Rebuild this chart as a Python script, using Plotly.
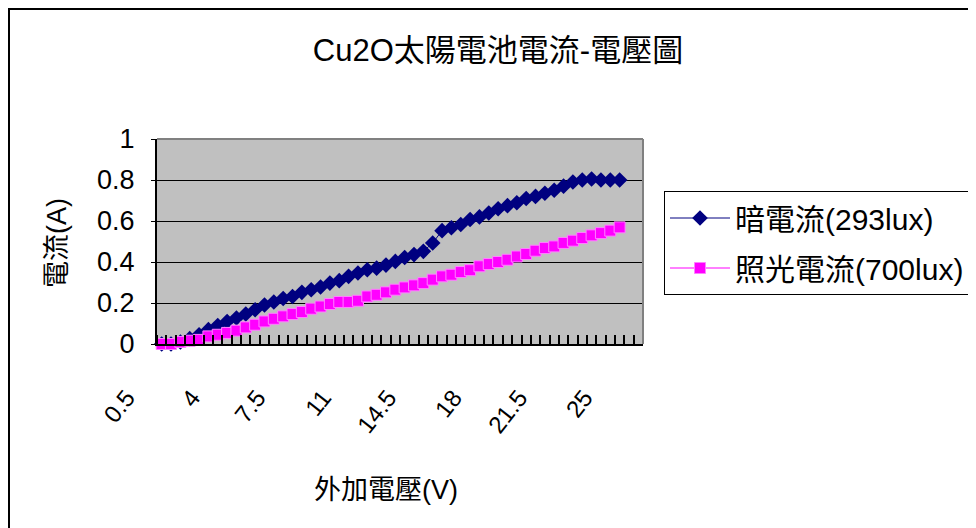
import plotly.graph_objects as go

# ---- data ----
voltage = [0.5, 1.0, 1.5, 2.0, 2.5, 3.0, 3.5, 4.0, 4.5, 5.0,
           5.5, 6.0, 6.5, 7.0, 7.5, 8.0, 8.5, 9.0, 9.5, 10.0,
           10.5, 11.0, 11.5, 12.0, 12.5, 13.0, 13.5, 14.0, 14.5, 15.0,
           15.5, 16.0, 16.5, 17.0, 17.5, 18.0, 18.5, 19.0, 19.5, 20.0,
           20.5, 21.0, 21.5, 22.0, 22.5, 23.0, 23.5, 24.0, 24.5, 25.0,
           25.5, 26.0]

dark_current = [0.0, 0.0, 0.01, 0.026, 0.045, 0.07, 0.09, 0.11, 0.127, 0.146,
                0.167, 0.19, 0.205, 0.222, 0.232, 0.252, 0.265, 0.278, 0.297, 0.309,
                0.33, 0.346, 0.362, 0.37, 0.385, 0.403, 0.422, 0.436, 0.452, 0.493,
                0.553, 0.567, 0.583, 0.607, 0.62, 0.639, 0.66, 0.675, 0.689, 0.71,
                0.72, 0.735, 0.75, 0.77, 0.79, 0.80, 0.805, 0.80, 0.80, 0.80]

light_current = [0.0, 0.0, 0.01, 0.016, 0.02, 0.037, 0.045, 0.054, 0.065, 0.081,
                 0.094, 0.11, 0.123, 0.135, 0.146, 0.156, 0.172, 0.183, 0.195, 0.205,
                 0.205, 0.211, 0.232, 0.24, 0.252, 0.265, 0.276, 0.286, 0.297, 0.314,
                 0.33, 0.338, 0.351, 0.36, 0.379, 0.39, 0.40, 0.411, 0.427, 0.439,
                 0.455, 0.468, 0.476, 0.493, 0.504, 0.517, 0.53, 0.541, 0.553, 0.569]

x_tick_values = [0.5, 4, 7.5, 11, 14.5, 18, 21.5, 25]
x_tick_labels = ["0.5", "4", "7.5", "11", "14.5", "18", "21.5", "25"]
y_tick_values = [0, 0.2, 0.4, 0.6, 0.8, 1]

series_names = ["暗電流(293lux)", "照光電流(700lux)"]
title_text = "Cu2O太陽電池電流-電壓圖"
x_title = "外加電壓(V)"
y_title = "電流(A)"

FONT = "Liberation Sans, Arial, Noto Sans CJK TC, sans-serif"

# page body has an 8px default margin; positions below are in reference pixels
OFF = 8
W, H = 976, 528
L, T = 157 - OFF, 139 - OFF
R = W - (643 - OFF)
B = H - (344 - OFF)
PW, PH = W - L - R, H - T - B


def px(x):
    return (x - OFF - L) / PW


def py(y):
    return (H - B - (y - OFF)) / PH


# category boundaries for the tick marks of the category-style axis
half_step = (voltage[1] - voltage[0]) / 2
boundaries = [v - half_step for v in voltage] + [voltage[-1] + half_step]

fig = go.Figure()
fig.add_trace(go.Scatter(
    x=voltage[:len(dark_current)], y=dark_current, name=series_names[0],
    mode="lines+markers", legendgroup="a", cliponaxis=False,
    line=dict(color="#000080", width=1),
    marker=dict(symbol="diamond", size=12, color="#000080",
                line=dict(color="#000080", width=0)),
))
fig.add_trace(go.Scatter(
    x=voltage[:len(light_current)], y=light_current, name=series_names[1],
    mode="lines+markers", legendgroup="b", cliponaxis=False,
    line=dict(color="#FF00FF", width=1),
    marker=dict(symbol="square", size=11, color="#FF00FF",
                line=dict(color="#FF80FF", width=1)),
))

fig.update_layout(
    width=W, height=H,
    margin=dict(l=L, r=R, t=T, b=B, autoexpand=False),
    paper_bgcolor="white", plot_bgcolor="#C0C0C0",
    font=dict(family=FONT, color="black", size=27),
    title=dict(text=title_text, x=(498 - OFF) / W, xanchor="center",
               y=1 - (50 - OFF) / H, yanchor="middle",
               font=dict(family=FONT, size=31, color="black")),
    showlegend=True,
    legend=dict(x=px(664), y=py(191), xanchor="left", yanchor="top",
                bgcolor="white", bordercolor="black", borderwidth=1,
                font=dict(family=FONT, size=30, color="black"),
                traceorder="grouped", tracegroupgap=8, itemwidth=60),
    xaxis=dict(
        range=[boundaries[0], boundaries[-1]],
        tickmode="array", tickvals=x_tick_values, ticktext=x_tick_labels,
        tickangle=-52, ticks="", showgrid=False, zeroline=False,
        showline=True, linecolor="black", linewidth=2,
        tickfont=dict(family=FONT, size=24, color="black"),
        ticklabelshift=-35, ticklabelstandoff=28,
        minor=dict(ticks="inside", tickmode="array", tickvals=boundaries,
                   ticklen=9, tickwidth=2, tickcolor="black", showgrid=False),
    ),
    yaxis=dict(
        range=[0, 1], tickmode="array", tickvals=y_tick_values,
        ticks="outside", ticklen=4, tickcolor="black", tickwidth=1,
        showgrid=True, gridcolor="black", gridwidth=1, zeroline=False,
        showline=True, linecolor="black", linewidth=2,
        tickfont=dict(family=FONT, size=27, color="black"),
        ticklabelstandoff=11,
    ),
    shapes=[
        dict(type="line", xref="paper", yref="paper", x0=0, x1=1, y0=1, y1=1,
             line=dict(color="#808080", width=2), layer="above"),
        dict(type="line", xref="paper", yref="paper", x0=1, x1=1, y0=0, y1=1,
             line=dict(color="#808080", width=2), layer="above"),
        # chart-area border
        dict(type="rect", xref="paper", yref="paper",
             x0=px(9), x1=px(995), y0=py(550), y1=py(9),
             line=dict(color="black", width=2), fillcolor="rgba(0,0,0,0)",
             layer="above"),
    ],
    annotations=[
        dict(text=y_title, xref="paper", yref="paper", x=px(57), y=py(243),
             xanchor="center", yanchor="middle", showarrow=False, textangle=-90,
             font=dict(family=FONT, size=27, color="black")),
        dict(text=x_title, xref="paper", yref="paper", x=px(386), y=py(490),
             xanchor="center", yanchor="middle", showarrow=False,
             font=dict(family=FONT, size=27, color="black")),
    ],
)

fig.write_html("out.html")
